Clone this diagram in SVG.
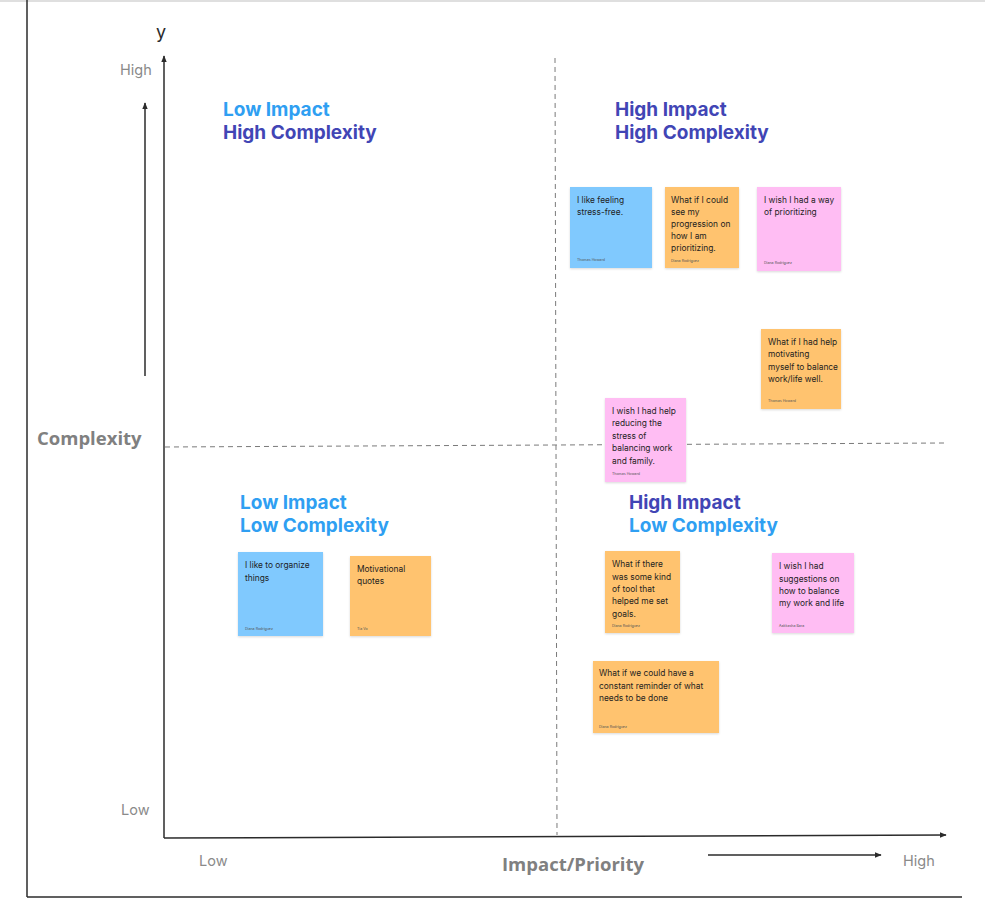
<svg xmlns="http://www.w3.org/2000/svg" width="985" height="919" viewBox="0 0 985 919">
<defs>
<style>
.note{filter:drop-shadow(0 1px 1px rgba(0,0,0,0.15));}
.t{font-family:Inter,"Liberation Sans",sans-serif;font-size:8.4px;fill:#1e1e1e;}
.a{font-family:Inter,"Liberation Sans",sans-serif;font-size:3.6px;fill:#555;}
.q{font-family:Inter,"Liberation Sans",sans-serif;font-size:19px;font-weight:700;}
.lb{fill:#2f9ff2;}
.ind{fill:#4145b5;}
.ax{font-family:"Open Sans","Liberation Sans",sans-serif;font-size:18.5px;font-weight:700;fill:#808080;}
.tick{font-family:Inter,"Liberation Sans",sans-serif;font-size:14.5px;fill:#8a8a8a;}
.blue{fill:#80c9fe;}
.org{fill:#ffc36f;}
.pink{fill:#ffbdf3;}
</style>
<marker id="arr" viewBox="0 0 10 10" refX="9" refY="5" markerWidth="7" markerHeight="7" orient="auto-start-reverse" markerUnits="userSpaceOnUse">
<path d="M0,1 L10,5 L0,9 Z" fill="#2b2b2b"/>
</marker>
</defs>
<rect width="985" height="919" fill="#ffffff"/>
<g id="frame">
<line x1="0" y1="1" x2="985" y2="1" stroke="#d4d4d4" stroke-width="1.5"/>
<line x1="27" y1="0" x2="27" y2="897" stroke="#2b2b2b" stroke-width="1.5"/>
<line x1="27" y1="897" x2="962" y2="897" stroke="#2b2b2b" stroke-width="1.5"/>
</g>
<g id="connectors">
<line x1="164" y1="838" x2="164" y2="56" stroke="#2b2b2b" stroke-width="1.5" marker-end="url(#arr)"/>
<line x1="145" y1="376" x2="145" y2="103" stroke="#2b2b2b" stroke-width="1.5" marker-end="url(#arr)"/>
<line x1="164" y1="838" x2="946" y2="835" stroke="#2b2b2b" stroke-width="1.5" marker-end="url(#arr)"/>
<line x1="708" y1="855" x2="881" y2="855" stroke="#2b2b2b" stroke-width="1.5" marker-end="url(#arr)"/>
<line x1="165" y1="447" x2="945" y2="443" stroke="#7a7a7a" stroke-width="1" stroke-dasharray="5,4"/>
<line x1="555" y1="58" x2="557" y2="835" stroke="#7a7a7a" stroke-width="1" stroke-dasharray="5,4"/>
</g>
<g id="axis-labels">
<text x="156" y="38" font-family="Inter,'Liberation Sans',sans-serif" font-size="18" fill="#2b2b2b">y</text>
<text class="tick" x="120" y="75">High</text>
<text class="tick" x="121" y="815">Low</text>
<text class="ax" x="37" y="445">Complexity</text>
<text class="tick" x="199" y="866">Low</text>
<text class="ax" x="502" y="871">Impact/Priority</text>
<text class="tick" x="903" y="866">High</text>
</g>
<g id="q-lh">
<text class="q lb" x="223" y="116">Low Impact</text>
<text class="q ind" x="223" y="139">High Complexity</text>
</g>
<g id="q-hh">
<text class="q ind" x="615" y="116">High Impact</text>
<text class="q ind" x="615" y="139">High Complexity</text>
</g>
<g id="q-ll">
<text class="q lb" x="240" y="509">Low Impact</text>
<text class="q lb" x="240" y="532">Low Complexity</text>
</g>
<g id="q-hl">
<text class="q ind" x="629" y="509">High Impact</text>
<text class="q lb" x="629" y="532">Low Complexity</text>
</g>
<g id="n1">
<rect class="note blue" x="570" y="187" width="82" height="81"/>
<text class="t" x="577" y="203">I like feeling</text>
<text class="t" x="577" y="215">stress-free.</text>
<text class="a" x="577" y="261">Thomas Howard</text>
</g>
<g id="n2">
<rect class="note org" x="665" y="187" width="74" height="81"/>
<text class="t" x="671" y="203">What if I could</text>
<text class="t" x="671" y="215">see my</text>
<text class="t" x="671" y="227">progression on</text>
<text class="t" x="671" y="239">how I am</text>
<text class="t" x="671" y="251">prioritizing.</text>
<text class="a" x="671" y="262">Diana Rodriguez</text>
</g>
<g id="n3">
<rect class="note pink" x="757" y="187" width="84" height="84"/>
<text class="t" x="764" y="203">I wish I had a way</text>
<text class="t" x="764" y="215">of prioritizing</text>
<text class="a" x="764" y="264">Diana Rodriguez</text>
</g>
<g id="n4">
<rect class="note org" x="761" y="329" width="80" height="80"/>
<text class="t" x="768" y="345">What if I had help</text>
<text class="t" x="768" y="357">motivating</text>
<text class="t" x="768" y="370">myself to balance</text>
<text class="t" x="768" y="382">work/life well.</text>
<text class="a" x="768" y="402">Thomas Howard</text>
</g>
<g id="n5">
<rect class="note pink" x="605" y="398" width="81" height="84"/>
<text class="t" x="612" y="414">I wish I had help</text>
<text class="t" x="612" y="426">reducing the</text>
<text class="t" x="612" y="439">stress of</text>
<text class="t" x="612" y="451">balancing work</text>
<text class="t" x="612" y="464">and family.</text>
<text class="a" x="612" y="475">Thomas Howard</text>
</g>
<g id="n6">
<rect class="note blue" x="238" y="552" width="85" height="84"/>
<text class="t" x="245" y="568">I like to organize</text>
<text class="t" x="245" y="581">things</text>
<text class="a" x="245" y="630">Diana Rodriguez</text>
</g>
<g id="n7">
<rect class="note org" x="350" y="556" width="81" height="80"/>
<text class="t" x="357" y="572">Motivational</text>
<text class="t" x="357" y="584">quotes</text>
<text class="a" x="357" y="630">Tia Vo</text>
</g>
<g id="n8">
<rect class="note org" x="605" y="551" width="75" height="82"/>
<text class="t" x="612" y="567">What if there</text>
<text class="t" x="612" y="580">was some kind</text>
<text class="t" x="612" y="592">of tool that</text>
<text class="t" x="612" y="604">helped me set</text>
<text class="t" x="612" y="617">goals.</text>
<text class="a" x="612" y="627">Diana Rodriguez</text>
</g>
<g id="n9">
<rect class="note pink" x="772" y="553" width="82" height="80"/>
<text class="t" x="779" y="569">I wish I had</text>
<text class="t" x="779" y="582">suggestions on</text>
<text class="t" x="779" y="594">how to balance</text>
<text class="t" x="779" y="606">my work and life</text>
<text class="a" x="779" y="627">Aakkasha Bara</text>
</g>
<g id="n10">
<rect class="note org" x="593" y="661" width="126" height="72"/>
<text class="t" x="599" y="676">What if we could have a</text>
<text class="t" x="599" y="689">constant reminder of what</text>
<text class="t" x="599" y="701">needs to be done</text>
<text class="a" x="599" y="728">Diana Rodriguez</text>
</g>
</svg>
